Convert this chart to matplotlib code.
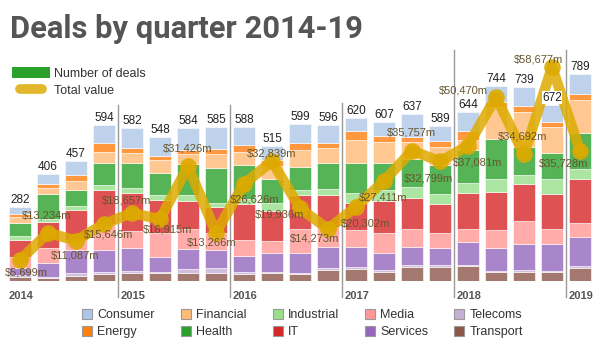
import matplotlib.pyplot as plt
from matplotlib.patches import Patch
from matplotlib.lines import Line2D
from matplotlib.legend_handler import HandlerLine2D

plt.rcParams['font.family'] = ['Liberation Sans', 'DejaVu Sans']

years = ['2014', '2015', '2016', '2017', '2018', '2019']
year_starts = [0, 4, 8, 12, 16, 20]

# deals per sector, one entry per quarter (2014 Q1 .. 2019 Q1)
consumer = [28, 37, 53, 69, 76, 71, 84, 84, 70, 54, 74, 71, 49, 56, 90, 55, 71, 61, 72, 67, 76]
energy = [10, 15, 22, 34, 17, 17, 15, 19, 25, 23, 25, 19, 32, 23, 17, 25, 36, 19, 22, 20, 25]
financial = [22, 23, 36, 42, 38, 47, 38, 53, 51, 51, 64, 57, 89, 79, 67, 67, 38, 123, 133, 98, 123]
health = [51, 95, 61, 83, 95, 86, 118, 131, 131, 89, 89, 99, 114, 104, 104, 110, 124, 154, 110, 98, 140]
industrial = [15, 13, 13, 19, 22, 19, 24, 15, 18, 30, 19, 22, 38, 42, 41, 38, 41, 47, 32, 57, 38]
it = [64, 98, 116, 130, 145, 127, 105, 99, 136, 116, 131, 121, 104, 121, 118, 112, 136, 146, 141, 135, 166]
media = [44, 55, 38, 99, 64, 89, 79, 64, 61, 47, 89, 76, 66, 74, 72, 57, 48, 70, 88, 56, 53]
services = [25, 53, 89, 85, 85, 57, 77, 72, 60, 72, 76, 83, 76, 66, 67, 64, 89, 85, 99, 103, 110]
telecoms = [6, 4, 10, 8, 8, 6, 15, 19, 9, 4, 4, 6, 8, 6, 6, 6, 4, 5, 6, 5, 10]
transport = [17, 13, 19, 25, 32, 29, 29, 29, 27, 29, 28, 42, 44, 36, 55, 55, 57, 34, 36, 33, 48]

# total deal value, $m
values = [5699, 13234, 11087, 15646, 18657, 16915, 31426, 13266, 26626, 32839, 19936,
          14273, 20302, 27411, 35757, 32799, 37081, 50470, 34692, 58677, 35728]

# stacked bottom to top
stack = [
    ('Transport', transport, '#8c564b'),
    ('Telecoms', telecoms, '#c5b0d5'),
    ('Services', services, '#9467bd'),
    ('Media', media, '#ff9896'),
    ('IT', it, '#d62728'),
    ('Industrial', industrial, '#98df8a'),
    ('Health', health, '#2ca02c'),
    ('Financial', financial, '#ffbb78'),
    ('Energy', energy, '#ff7f0e'),
    ('Consumer', consumer, '#aec7e8'),
]
legend_order = ['Consumer', 'Energy', 'Financial', 'Health', 'Industrial',
                'IT', 'Media', 'Services', 'Telecoms', 'Transport']

# where each value label sits relative to its point (pixels)
label_offsets = [(6, -12), (-1, 17), (-1, -15), (5, -11), (-5, 12), (8, -10), (0, 18),
                 (-4, -10), (11, -16), (0, 8), (-20, -6), (-13, -10), (10, -17), (-1, -16),
                 (-1, 18), (-12, -17), (10, -17), (-33, 6), (-1, 18), (-14, 8), (-16, -13)]
sep_tops = [671, 671, 678, 880, 880]

gold = '#ddaa00'
n = len(values)
x = list(range(n))

fig = plt.figure(figsize=(6, 3.48), dpi=100)
ax = fig.add_axes([0, 0.1925, 1, 0.6925])
ax.set_xlim(-0.714, n - 1 + 0.714)
ax.set_ylim(0, 918)
ax.axis('off')

bottom = [0] * n
for name, vals, col in stack:
    ax.bar(x, vals, 0.8, bottom=bottom, color=col, alpha=0.8,
           edgecolor='white', linewidth=0.5)
    bottom = [b + v for b, v in zip(bottom, vals)]
totals = bottom

# year separators and labels
for yr, s in zip(years, year_starts):
    ax.text(s - 0.5 + 0.11, -57, yr, ha='left', va='center', fontsize=8,
            fontweight='bold', color='#555555', clip_on=False)
for s, top in zip(year_starts[1:], sep_tops):
    ax.plot([s - 0.5, s - 0.5], [-61, top], color='#999999', lw=1, clip_on=False)

ax2 = ax.twinx()
ax2.set_ylim(0, 66080)
ax2.axis('off')
ax2.plot(x, values, color=gold, lw=7.5, alpha=0.85, marker='o', markersize=11,
         solid_joinstyle='round', zorder=2)

for xi, v, (dx, dy) in zip(x, values, label_offsets):
    ax2.annotate(f'${v:,}m', (xi, v), xytext=(dx, dy), textcoords='offset pixels',
                 ha='center', va='center', fontsize=8, color='#66552e', zorder=3)

for xi, t in zip(x, totals):
    ax2.annotate(str(t), (xi, t), xycoords=ax.transData, xytext=(0, 1),
                 textcoords='offset pixels', ha='center', va='bottom', fontsize=8.5,
                 color='#222222', zorder=4,
                 bbox=dict(boxstyle='square,pad=0.05', fc='white', ec='none'))

title = fig.text(10 / 600, 1 - 38 / 348, 'Deals by quarter 2014-19',
                 family=['DejaVu Sans Condensed', 'Liberation Sans Narrow', 'Roboto',
                         'DejaVu Sans'],
                 fontstretch='condensed', fontweight='bold',
                 fontsize=25, color='#555555', va='baseline', ha='left')
# squeeze the title into its slot if no narrow face was found
fig.canvas.draw()
tw = title.get_window_extent().width
if tw > 355:
    title.set_fontsize(25 * 353 / tw)

gold_line = Line2D([], [], color='#e3b72b', lw=7, solid_capstyle='round')
top_handles = [Patch(facecolor='#2ca02c', edgecolor='none'), gold_line]
fig.legend(top_handles, ['Number of deals', 'Total value'], loc='upper left',
           bbox_to_anchor=(12 / 600, 1 - 67 / 348), frameon=False, fontsize=9,
           handlelength=3.0, handleheight=1.0, handletextpad=0.4, labelspacing=0.3,
           borderpad=0, borderaxespad=0, labelcolor='#333333',
           handler_map={gold_line: HandlerLine2D(numpoints=2, marker_pad=0.64)})

colors = {name: col for name, _, col in stack}
sector_handles = [Patch(facecolor=colors[s], edgecolor='#999999', linewidth=0.8)
                  for s in legend_order]
fig.legend(sector_handles, legend_order, ncol=5, loc='upper left',
           bbox_to_anchor=(82 / 600, 1 - 309 / 348), frameon=False, fontsize=9,
           handlelength=0.8, handleheight=0.8, handletextpad=0.4, columnspacing=2.1,
           labelspacing=0.4, borderpad=0, borderaxespad=0, labelcolor='#333333')

fig.savefig('out.png', dpi=100)
